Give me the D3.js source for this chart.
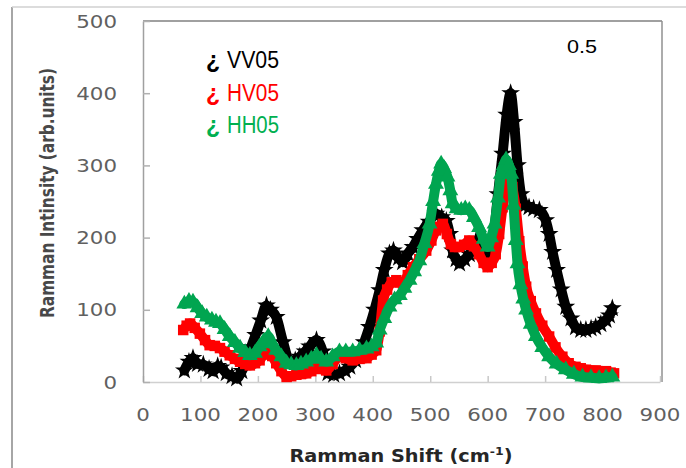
<!DOCTYPE html>
<html>
<head>
<meta charset="utf-8">
<title>Raman spectra 0.5</title>
<script src="https://d3js.org/d3.v7.min.js"></script>
<style>
  body { margin: 0; background: #fff; }
  svg { display: block; }
  .tick-label { font-family: "DejaVu Sans", sans-serif; font-size: 18px; fill: #606060; }
  .legend { font-family: "Liberation Sans", Arial, sans-serif; font-size: 23px; }
</style>
</head>
<body>
<div id="chart"></div>
<script>
// Raman shift (cm-1) and intensity
const vvShift = [72, 80, 87, 95, 105, 115, 122, 130, 136, 145, 155, 163, 172, 180, 188, 196, 205, 215, 222, 232,
  244, 255, 265, 273, 282, 290, 302, 313, 322, 332, 342, 352, 360, 370, 377, 385, 394, 403, 412, 420,
  429, 436, 445, 452, 461, 470, 478, 487, 498, 510, 520, 528, 534, 539, 545, 551, 560, 568, 575, 580,
  590, 600, 610, 618, 626, 633, 640, 646, 652, 658, 665, 672, 680, 690, 701, 707, 713, 720, 728, 736,
  745, 753, 762, 771, 780, 788, 797, 806, 812, 817];
const vvValue = [16, 28, 33, 25, 24, 18, 15, 22, 20, 12, 8, 5, 15, 30, 48, 65, 85, 106, 100, 90,
  55, 30, 30, 35, 42, 49, 58, 42, 12, 10, 12, 16, 21, 30, 40, 55, 76, 100, 127, 155,
  178, 182, 172, 166, 178, 187, 198, 210, 222, 233, 228, 223, 205, 182, 170, 164, 170, 177, 188, 196,
  190, 175, 200, 260, 316, 370, 400, 360, 300, 260, 245, 242, 240, 238, 224, 205, 180, 155, 128, 104,
  88, 76, 72, 72, 74, 76, 80, 86, 92, 102];

const hvShift = [70, 76, 82, 90, 99, 108, 116, 125, 134, 142, 151, 160, 169, 178, 186, 195, 203, 210, 218, 225,
  232, 241, 250, 258, 267, 275, 284, 293, 302, 310, 319, 330, 342, 353, 365, 377, 389, 398, 406, 412,
  418, 425, 433, 441, 447, 452, 461, 470, 481, 493, 502, 510, 516, 522, 529, 536, 543, 550, 559, 568,
  576, 585, 593, 600, 607, 614, 620, 626, 632, 638, 643, 649, 655, 661, 667, 675, 684, 695, 707, 718,
  730, 741, 753, 762, 771, 788, 806, 814, 820];
const hvValue = [72, 78, 81, 75, 67, 58, 51, 50, 47, 42, 37, 32, 28, 25, 23, 26, 30, 38, 46, 36,
  26, 15, 7, 8, 10, 11, 12, 15, 19, 18, 16, 25, 35, 33, 30, 32, 33, 38, 44, 70,
  113, 128, 138, 141, 138, 137, 148, 159, 170, 182, 196, 210, 215, 219, 205, 191, 187, 187, 190, 196,
  188, 177, 165, 159, 165, 177, 205, 242, 270, 288, 270, 240, 195, 160, 132, 112, 95, 78, 63, 48,
  35, 26, 21, 19, 17, 16, 15, 13, 12];

const hhShift = [72, 80, 87, 95, 103, 111, 120, 127, 134, 142, 151, 160, 169, 178, 186, 195, 203, 210, 218, 225,
  232, 241, 250, 258, 267, 275, 284, 293, 302, 310, 319, 330, 342, 353, 365, 377, 389, 398, 406, 412,
  420, 429, 438, 447, 455, 464, 472, 481, 490, 499, 505, 510, 515, 519, 524, 530, 535, 539, 546, 554,
  561, 568, 576, 585, 593, 600, 606, 612, 618, 623, 628, 632, 637, 641, 645, 649, 652, 657, 662, 667,
  675, 684, 695, 707, 720, 736, 750, 765, 780, 794, 806, 817];
const hhValue = [108, 112, 111, 103, 95, 90, 86, 83, 81, 73, 63, 55, 47, 41, 37, 40, 49, 56, 63, 53,
  44, 35, 26, 24, 23, 25, 28, 32, 37, 32, 28, 35, 42, 42, 42, 44, 46, 49, 54, 72,
  88, 104, 114, 120, 130, 141, 153, 168, 192, 219, 250, 274, 292, 302, 296, 284, 265, 247, 240, 238,
  240, 238, 228, 214, 198, 187, 200, 219, 255, 288, 300, 308, 300, 288, 245, 196, 164, 135, 115, 100,
  80, 63, 48, 35, 25, 17, 11, 7, 6, 5, 6, 7];

const xTicks = [0, 100, 200, 300, 400, 500, 600, 700, 800, 900];
const yTicks = [0, 100, 200, 300, 400, 500];

const series = [
  { name: "VV05", shift: vvShift, value: vvValue, color: "#000000", label: "#000000", symbol: d3.symbolStar, size: 110 },
  { name: "HV05", shift: hvShift, value: hvValue, color: "#ff0000", label: "#ff0000", symbol: d3.symbolSquare, size: 110 },
  { name: "HH05", shift: hhShift, value: hhValue, color: "#00a550", label: "#00b050", symbol: d3.symbolTriangle, size: 110 }
];

const width = 686, height = 468;
const plot = { left: 143, top: 21, right: 662, bottom: 382 };

const svg = d3.select("#chart").append("svg")
  .attr("width", width)
  .attr("height", height);

// outer frame (only left and top edges show in the picture)
svg.append("line").attr("x1", 12).attr("y1", 7).attr("x2", 12).attr("y2", height)
  .attr("stroke", "#a6a6a6").attr("stroke-width", 2);
svg.append("line").attr("x1", 12).attr("y1", 7).attr("x2", width).attr("y2", 7)
  .attr("stroke", "#d0d0d0").attr("stroke-width", 1.5);

const x = d3.scaleLinear().domain([0, 900]).range([plot.left, 660]);
const y = d3.scaleLinear().domain([0, 500]).range([plot.bottom, plot.top]);

// plot area border
svg.append("line").attr("x1", plot.left).attr("y1", plot.top).attr("x2", plot.right).attr("y2", plot.top)
  .attr("stroke", "#808080").attr("stroke-width", 1.5);
svg.append("line").attr("x1", plot.right).attr("y1", plot.top).attr("x2", plot.right).attr("y2", plot.bottom)
  .attr("stroke", "#909090").attr("stroke-width", 1.5);

// axes with inside ticks
const xAxis = svg.append("g")
  .attr("transform", `translate(0,${plot.bottom})`)
  .call(d3.axisBottom(x).tickValues(xTicks).tickSizeInner(-6).tickSizeOuter(0).tickFormat(""));
xAxis.select(".domain").attr("stroke", "#d0d0d0").attr("stroke-width", 1.5);
xAxis.selectAll(".tick line").attr("stroke", "#c8c8c8").attr("stroke-width", 1.5);

const yAxis = svg.append("g")
  .attr("transform", `translate(${plot.left},0)`)
  .call(d3.axisLeft(y).tickValues(yTicks).tickSizeInner(-7).tickSizeOuter(0).tickFormat(""));
yAxis.select(".domain").attr("stroke", "#a0a0a0").attr("stroke-width", 1.5);
yAxis.selectAll(".tick line").attr("stroke", "#b0b0b0").attr("stroke-width", 1.5);

// tick labels (the source picture is stretched sideways, so widths are fixed)
svg.append("g").selectAll("text")
  .data(xTicks).join("text")
  .attr("class", "tick-label")
  .attr("x", d => x(d))
  .attr("y", 421)
  .attr("text-anchor", "middle")
  .attr("textLength", d => String(d).length * 13.6)
  .attr("lengthAdjust", "spacingAndGlyphs")
  .text(d => d);

svg.append("g").selectAll("text")
  .data(yTicks).join("text")
  .attr("class", "tick-label")
  .attr("x", 117)
  .attr("y", d => y(d) + 6.5)
  .attr("text-anchor", "end")
  .attr("textLength", d => String(d).length * 13.6)
  .attr("lengthAdjust", "spacingAndGlyphs")
  .text(d => d);

// axis titles
const xTitle = svg.append("text")
  .attr("x", 401).attr("y", 462)
  .attr("text-anchor", "middle")
  .attr("font-family", "DejaVu Sans, sans-serif")
  .attr("font-weight", "bold")
  .attr("font-size", 17)
  .attr("fill", "#262626")
  .attr("textLength", 223)
  .attr("lengthAdjust", "spacingAndGlyphs");
xTitle.append("tspan").text("Ramman Shift (cm");
xTitle.append("tspan").attr("font-size", 11).attr("dy", -7).text("-1");
xTitle.append("tspan").attr("dy", 7).text(")");

svg.append("text")
  .attr("transform", "translate(54,193) rotate(-90)")
  .attr("text-anchor", "middle")
  .attr("font-family", "DejaVu Sans, sans-serif")
  .attr("font-weight", "bold")
  .attr("font-size", 19)
  .attr("fill", "#484848")
  .attr("textLength", 250)
  .attr("lengthAdjust", "spacingAndGlyphs")
  .text("Ramman Intinsity (arb.units)");

// series: thick marker bands
const line = d3.line()
  .x(d => x(d[0]))
  .y(d => y(d[1]))
  .curve(d3.curveMonotoneX);

const marks = svg.append("g");
series.forEach(s => {
  const pts = s.shift.map((v, i) => [v, s.value[i]]);
  marks.append("path")
    .datum(pts)
    .attr("d", line)
    .attr("fill", "none")
    .attr("stroke", s.color)
    .attr("stroke-width", 10)
    .attr("stroke-linejoin", "round")
    .attr("stroke-linecap", "round");
  marks.append("g").selectAll("path")
    .data(pts).join("path")
    .attr("transform", d => `translate(${x(d[0])},${y(d[1])})`)
    .attr("d", d3.symbol().type(s.symbol).size(s.size))
    .attr("fill", s.color);
});

// legend
series.forEach((s, i) => {
  const yy = 68 + i * 32.5;
  svg.append("text")
    .attr("class", "legend")
    .attr("x", 206).attr("y", yy)
    .attr("fill", s.label)
    .attr("font-weight", "bold")
    .text("¿");
  svg.append("text")
    .attr("class", "legend")
    .attr("x", 227).attr("y", yy)
    .attr("fill", s.label)
    .attr("textLength", 52)
    .attr("lengthAdjust", "spacingAndGlyphs")
    .text(s.name);
});

svg.append("text")
  .attr("x", 567).attr("y", 53)
  .attr("font-family", "Liberation Sans, Arial, sans-serif")
  .attr("font-size", 18)
  .attr("fill", "#000")
  .attr("textLength", 30)
  .attr("lengthAdjust", "spacingAndGlyphs")
  .text("0.5");
</script>
</body>
</html>
